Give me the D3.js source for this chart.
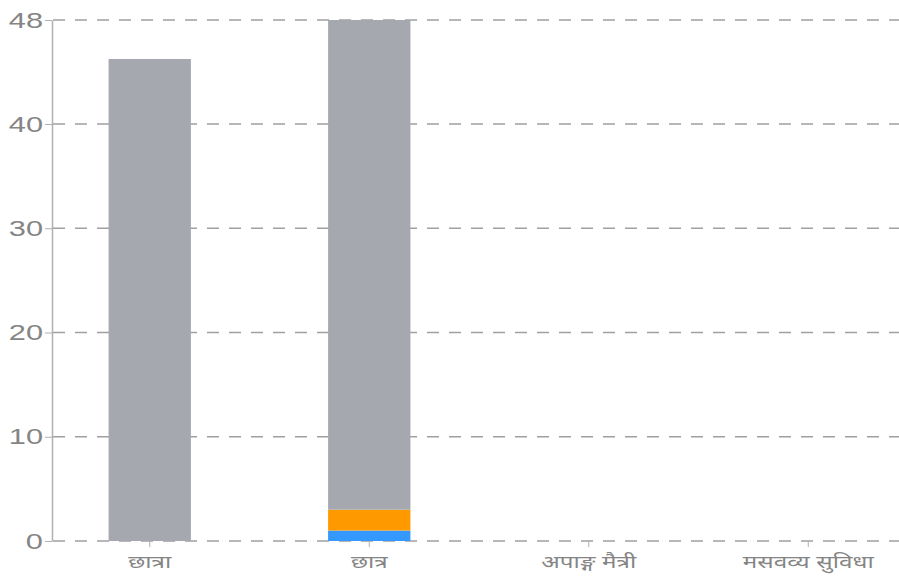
<!DOCTYPE html>
<html>
<head>
<meta charset="utf-8">
<script src="https://cdn.jsdelivr.net/npm/d3@7"></script>
<style>
  body { margin: 0; background: #fff; }
  text { font-family: "Liberation Sans", "Noto Sans", sans-serif; fill: #858585; }
</style>
</head>
<body>
<div class="chart"></div>
<script>
const width = 899;
const height = 576;

const categories = ['छात्रा', 'छात्र', 'अपाङ्ग मैत्री', 'मसवव्य सुविधा'];
const blueValues = [0, 1, 0, 0];
const orangeValues = [0, 2, 0, 0];
const greyValues = [45, 45, 0, 0];
const yTicks = [0, 10, 20, 30, 40, 48];

const seriesKeys = ['blue', 'orange', 'grey'];
const colors = { blue: '#3399ff', orange: '#ff9900', grey: '#a6a8b0' };

const rows = categories.map((c, i) => ({
  cat: c,
  blue: blueValues[i],
  orange: orangeValues[i],
  grey: greyValues[i]
}));

const svg = d3
  .select('.chart')
  .append('svg')
  .attr('width', width)
  .attr('height', height);

const x = d3.scaleBand().domain(categories).range([40, 918]);
// top tick (48) sits one full tick step above 40
const y = d3.scaleLinear().domain([0, 40, 48]).range([541, 124, 20]);

// grid
svg
  .append('g')
  .selectAll('line')
  .data(yTicks)
  .enter()
  .append('line')
  .attr('x1', 53)
  .attr('x2', width)
  .attr('y1', d => y(d))
  .attr('y2', d => y(d))
  .attr('stroke', '#a0a0a0')
  .attr('stroke-width', 1.5)
  .attr('stroke-dasharray', '12,10');

const stack = d3.stack().keys(seriesKeys)(rows);
const barW = x.bandwidth() * 0.375;

svg
  .append('g')
  .selectAll('g')
  .data(stack)
  .enter()
  .append('g')
  .attr('fill', d => colors[d.key])
  .selectAll('rect')
  .data(d => d)
  .enter()
  .append('rect')
  .attr('x', d => x(d.data.cat) + x.bandwidth() / 2 - barW / 2)
  .attr('width', barW)
  .attr('y', d => y(d[1]))
  .attr('height', d => y(d[0]) - y(d[1]));

// y axis
const yAxis = svg
  .append('g')
  .attr('transform', 'translate(52,0)')
  .call(d3.axisLeft(y).tickValues(yTicks).tickSize(7).tickSizeOuter(0));
yAxis.select('.domain').attr('stroke', '#b0b0b0').attr('stroke-width', 1.5);
yAxis.selectAll('.tick line').attr('stroke', '#b0b0b0');
yAxis
  .selectAll('.tick text')
  .attr('font-size', 22)
  .attr('fill', '#858585')
  .attr('x', -9 / 1.4)
  .attr('transform', 'scale(1.4,1)');

// x axis
const xAxis = svg
  .append('g')
  .attr('transform', 'translate(0,541)')
  .call(d3.axisBottom(x).tickSize(6).tickSizeOuter(0));
xAxis.select('.domain').remove();
xAxis.selectAll('.tick line').attr('stroke', '#b0b0b0');
xAxis
  .selectAll('.tick text')
  .attr('font-size', 18)
  .attr('fill', '#858585')
  .attr('dy', '1em')
  .attr('transform', 'scale(1.35,1)');
</script>
</body>
</html>
